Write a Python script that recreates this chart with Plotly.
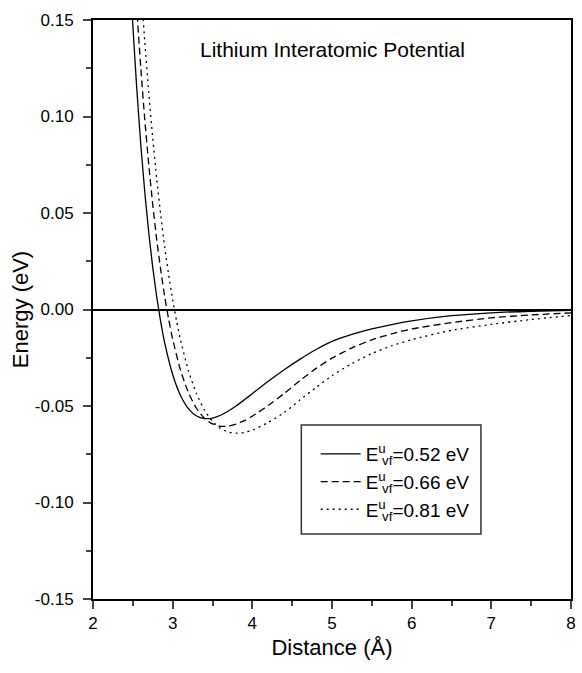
import plotly.graph_objects as go

# Data (distance in Å, energy in eV)
r_052 = [2.45, 2.50, 2.55, 2.60, 2.65, 2.70, 2.75, 2.80, 2.85, 2.90, 3.00, 3.10, 3.20, 3.30, 3.40, 3.50,
         3.60, 3.70, 3.80, 3.90, 4.00, 4.20, 4.40, 4.60, 4.80, 5.00, 5.25, 5.50, 5.75, 6.00, 6.50, 7.00, 7.50, 8.00]
e_052 = [0.1855, 0.1473, 0.1142, 0.0854, 0.0609, 0.0398, 0.0218, 0.0065, -0.0064, -0.0173, -0.0337, -0.0447,
         -0.0515, -0.0552, -0.0565, -0.0563, -0.0548, -0.0526, -0.0499, -0.0468, -0.0436, -0.0372, -0.0312,
         -0.0257, -0.0207, -0.0165, -0.0129, -0.0101, -0.0078, -0.0059, -0.0032, -0.0017, -0.0009, -0.0005]

r_066 = [2.52, 2.55, 2.60, 2.65, 2.70, 2.75, 2.80, 2.85, 2.90, 2.95, 3.00, 3.10, 3.20, 3.30, 3.40, 3.50,
         3.60, 3.70, 3.80, 3.90, 4.00, 4.20, 4.40, 4.60, 4.80, 5.00, 5.25, 5.50, 5.75, 6.00, 6.50, 7.00, 7.50, 8.00]
e_066 = [0.1755, 0.1554, 0.1252, 0.0984, 0.0750, 0.0543, 0.0362, 0.0205, 0.0067, -0.0051, -0.0154, -0.0316,
         -0.0433, -0.0513, -0.0564, -0.0593, -0.0605, -0.0604, -0.0593, -0.0576, -0.0553, -0.0497, -0.0435,
         -0.0368, -0.0305, -0.0252, -0.0199, -0.0157, -0.0126, -0.0101, -0.0068, -0.0043, -0.0028, -0.0018]

r_081 = [2.58, 2.62, 2.65, 2.70, 2.75, 2.80, 2.85, 2.90, 2.95, 3.00, 3.05, 3.10, 3.20, 3.30, 3.40, 3.50,
         3.60, 3.70, 3.80, 3.90, 4.00, 4.20, 4.40, 4.60, 4.80, 5.00, 5.25, 5.50, 5.75, 6.00, 6.50, 7.00, 7.50, 8.00]
e_081 = [0.1814, 0.1562, 0.1388, 0.1123, 0.0887, 0.0677, 0.0491, 0.0324, 0.0179, 0.0051, -0.0062, -0.0160,
         -0.0320, -0.0437, -0.0522, -0.0579, -0.0616, -0.0635, -0.0641, -0.0637, -0.0625, -0.0585, -0.0534,
         -0.0468, -0.0404, -0.0343, -0.0280, -0.0228, -0.0188, -0.0156, -0.0108, -0.0077, -0.0052, -0.0031]

series_names = [
    'E<sup>u</sup><span style="letter-spacing:-9px"> </span><sub>vf</sub>=0.52 eV',
    'E<sup>u</sup><span style="letter-spacing:-9px"> </span><sub>vf</sub>=0.66 eV',
    'E<sup>u</sup><span style="letter-spacing:-9px"> </span><sub>vf</sub>=0.81 eV',
]
x_ticks = [2, 3, 4, 5, 6, 7, 8]
y_ticks = [-0.15, -0.10, -0.05, 0.00, 0.05, 0.10, 0.15]
y_ticktext = ["-0.15", "-0.10", "-0.05", "0.00", "0.05", "0.10", "0.15"]

FONT = "Arial, Liberation Sans, sans-serif"

# plot-area geometry in pixels (for paper-coordinate placement)
L, R, T, B = 93, 576, 20, 599
W, H = R - L, B - T


def px(xp):
    return (xp - L) / W


def py(yp):
    return (B - yp) / H


fig = go.Figure()
fig.add_trace(go.Scatter(x=r_052, y=e_052, mode="lines", name=series_names[0],
                         line=dict(color="black", width=1.3, shape="spline", smoothing=0.6)))
fig.add_trace(go.Scatter(x=r_066, y=e_066, mode="lines", name=series_names[1],
                         line=dict(color="black", width=1.3, dash="7px,4px", shape="spline", smoothing=0.6)))
fig.add_trace(go.Scatter(x=r_081, y=e_081, mode="lines", name=series_names[2],
                         line=dict(color="black", width=1.3, dash="2px,4px", shape="spline", smoothing=0.6)))

fig.update_layout(
    width=582, height=673,
    margin=dict(l=L, r=582 - R, t=T, b=673 - B),
    paper_bgcolor="white", plot_bgcolor="white",
    font=dict(family=FONT, color="black", size=17),
    showlegend=True,
    legend=dict(x=px(318), y=py(435), xanchor="left", yanchor="top",
                borderwidth=0, bgcolor="rgba(0,0,0,0)",
                font=dict(size=19, family=FONT), itemwidth=40, tracegroupgap=0),
)
# legend frame
fig.add_shape(type="rect", xref="paper", yref="paper",
              x0=px(303.5), x1=px(485), y0=py(534), y1=py(425),
              line=dict(color="#333", width=1.5), fillcolor="rgba(0,0,0,0)", layer="above")
fig.add_annotation(text="Lithium Interatomic Potential", xref="paper", yref="paper",
                   x=px(335), y=py(50), xanchor="center", yanchor="middle",
                   showarrow=False, font=dict(size=21, family=FONT))

fig.update_xaxes(range=[2, 8], tickvals=x_ticks, ticks="outside", ticklen=8, tickwidth=1.5,
                 showline=True, linecolor="black", linewidth=2, mirror=True, showgrid=False,
                 zeroline=False, tickfont=dict(size=17),
                 minor=dict(dtick=0.5, ticks="outside", ticklen=5, tickwidth=1.5, showgrid=False),
                 title=dict(text="Distance (Å)", font=dict(size=22), standoff=7))
fig.update_yaxes(range=[-0.15, 0.15], tickvals=y_ticks, ticktext=y_ticktext, ticks="outside",
                 ticklen=8, tickwidth=1.5, showline=True, linecolor="black", linewidth=2,
                 mirror=True, showgrid=False, zeroline=True, zerolinecolor="black", zerolinewidth=2,
                 tickfont=dict(size=17), ticklabelstandoff=6,
                 minor=dict(dtick=0.025, ticks="outside", ticklen=5, tickwidth=1.5, showgrid=False),
                 title=dict(text="Energy (eV)", font=dict(size=22), standoff=0))

fig.write_html("out.html")
